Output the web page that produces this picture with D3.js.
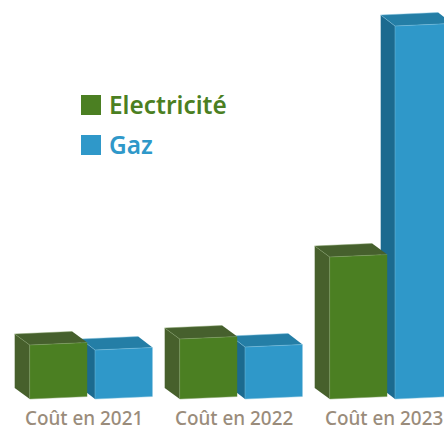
<!DOCTYPE html>
<html lang="fr"><head><meta charset="utf-8">
<script src="https://cdn.jsdelivr.net/npm/d3@7/dist/d3.min.js"></script>
<style>html,body{margin:0;padding:0;background:#fff}svg{display:block}</style></head>
<body><svg id="c" width="444" height="427"></svg>
<script>
const categories = ["Coût en 2021", "Coût en 2022", "Coût en 2023"];
const seriesNames = ["Electricité", "Gaz"];
const electricite = [54, 60, 142];
const gaz = [49, 52, 373];

const W = 444, H = 427;
const svg = d3.select("#c");
const FONT = "'Noto Sans', sans-serif";
const x0 = d3.scaleBand().domain(categories).range([29.7, 479.7]).paddingInner(0).paddingOuter(0);
const x1 = d3.scaleOrdinal().domain(seriesNames).range([0, 65.3]);
const y = d3.scaleLinear().domain([0, 373]).range([399, 26]);

const colors = {
  "Electricité": {front:"#4b7f22", side:"#47602c", top:"#46602d", edge:"#7f9c62", text:"#4b7f22", dx:-15},
  "Gaz": {front:"#2f98c9", side:"#1b6a8f", top:"#247ea6", edge:"#7cc0de", text:"#2f98c9", dx:-14.3}
};
const barW = 57.5, dy = -11, tilt = -2.5;

function pts(a){ return a.map(p=>p.join(",")).join(" "); }
function drawBar(g, xl, v, c){
  const t = y(v), b = y(0), xr = xl + barW, dx = c.dx;
  const A=[xl,t], B=[xr,t+tilt], C=[xr,b+tilt], D=[xl,b];
  const A2=[xl+dx,t+dy], B2=[xr+dx,t+tilt+dy], D2=[xl+dx,b+dy];
  g.append("polygon").attr("points",pts([A2,A,D,D2])).attr("fill",c.side);
  g.append("polygon").attr("points",pts([A2,B2,B,A])).attr("fill",c.top);
  g.append("polygon").attr("points",pts([A,B,C,D])).attr("fill",c.front);
  g.append("path").attr("d",`M${A2}L${A}L${B}M${A}L${D}L${C}M${A2}L${B2}`)
    .attr("fill","none").attr("stroke",c.edge).attr("stroke-width",0.6).attr("stroke-opacity",0.8);
}
const order = [["Gaz",gaz],["Electricité",electricite]];
order.forEach(([name,vals])=>{
  const g = svg.append("g").attr("class","series-"+name);
  categories.forEach((cat,i)=>drawBar(g, x0(cat)+x1(name), vals[i], colors[name]));
});

svg.append("g").selectAll("text").data(categories).join("text")
  .attr("x",d=>x0(d)+x1("Electricité")+54.4).attr("y",424.5)
  .attr("text-anchor","middle").attr("font-family",FONT).attr("font-size",18.9).attr("font-weight",550)
  .attr("fill","#9a8c7b").text(d=>d);

const lg = svg.append("g");
seriesNames.forEach((n,i)=>{
  const yy = 95 + i*40;
  lg.append("rect").attr("x",81).attr("y",yy).attr("width",20).attr("height",20).attr("fill",colors[n].front);
  lg.append("text").attr("x",109).attr("y",yy+19).attr("font-family",FONT).attr("font-size",24.4)
    .attr("font-weight",580).attr("fill",colors[n].text).text(n);
});
</script></body></html>
